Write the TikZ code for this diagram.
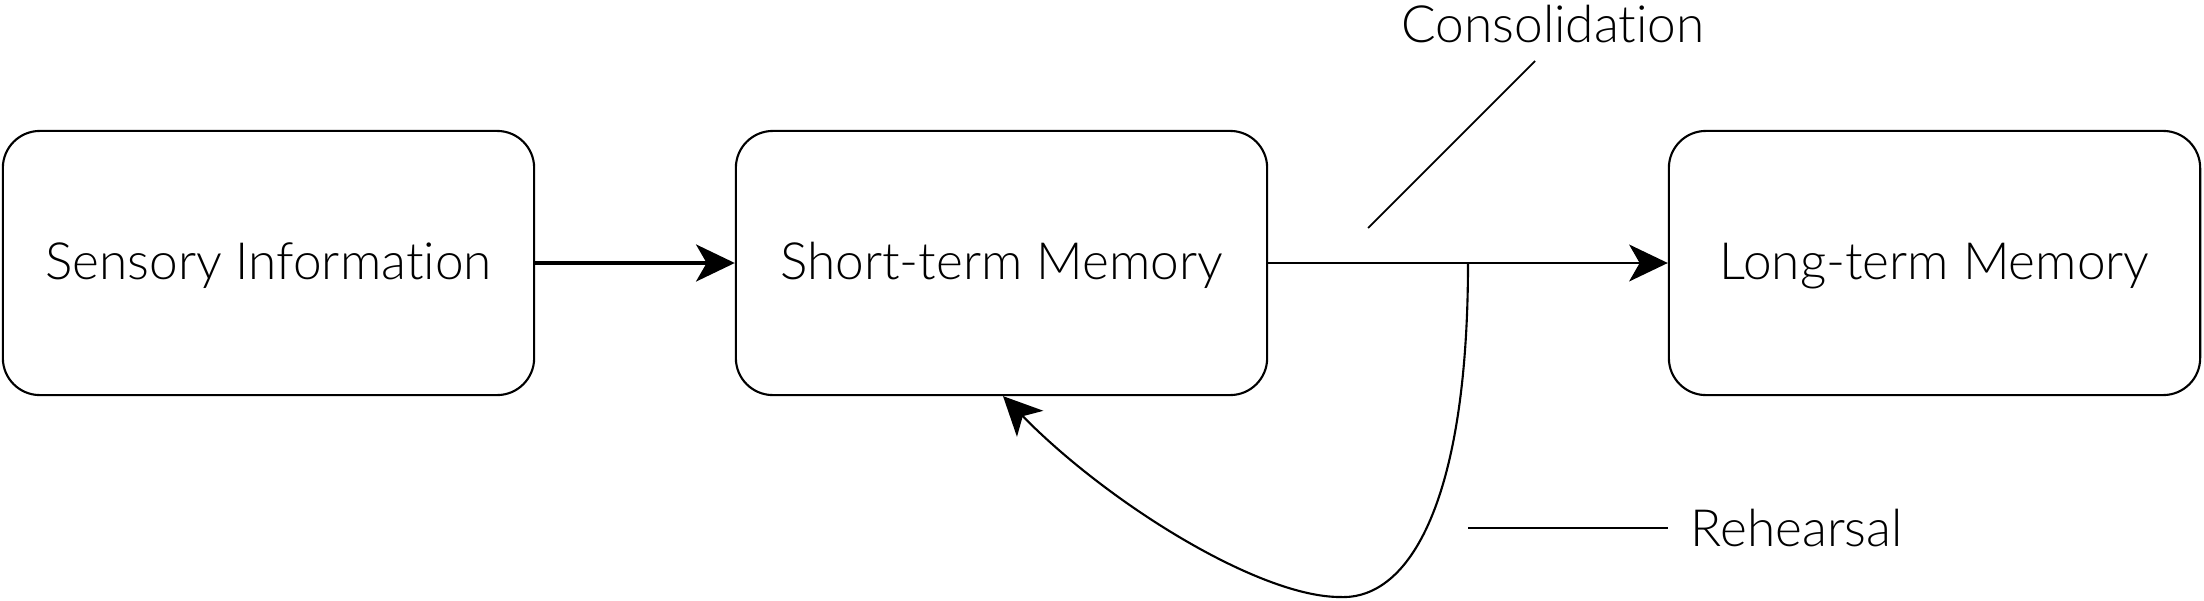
\documentclass[tikz,border=0pt]{standalone}
\usepackage{fontspec}
\setmainfont{Lato}[UprightFont={* Light},Ligatures={NoCommon}]
\usetikzlibrary{arrows.meta}
\begin{document}
\begin{tikzpicture}[x=0.01cm,y=-0.01cm,
  membox/.style={draw=black,line width=0.6pt,rounded corners=0.37cm,minimum width=5.31cm,minimum height=2.64cm,inner sep=0pt,text height=1.22em,text depth=0.28em,font=\fontsize{14.6pt}{17pt}\selectfont},
  lbl/.style={inner sep=0pt,font=\fontsize{14.6pt}{17pt}\selectfont},
  tip/.style={-{Stealth[length=11pt,width=10.5pt,inset=3pt]}},
]
\useasboundingbox (0,0) rectangle (2204,600);
\node[membox] (s) at (268.5,263) {Sensory Information};
\node[membox] (m) at (1001.5,263) {Short-term Memory};
\node[membox] (l) at (1934.5,263) {Long-term Memory};
\draw[tip,line width=1.15pt] (s.east) -- (m.west);
\draw[tip,line width=0.6pt] (m.east) -- (l.west);
\coordinate (c1) at (1368,228);
\coordinate (c2) at (1535,61);
\node[lbl] (cons) at (1553,24) {Consolidation};
\draw[line width=0.5pt] (c1) -- (c2);
\coordinate (r0) at (1468,262);
\coordinate (rb) at (1340,597);
\draw[tip,line width=0.6pt] (r0) .. controls (1468,500) and (1410,600) .. (rb)
  .. controls (1260,597) and (1110,505) .. ([xshift=0.015cm]m.south);
\coordinate (h1) at (1468,528);
\coordinate (h2) at (1668,528);
\draw[line width=0.4pt] (h1) -- (h2);
\node[lbl,anchor=west] (reh) at (1690,528) {Rehearsal};
\end{tikzpicture}
\end{document}
